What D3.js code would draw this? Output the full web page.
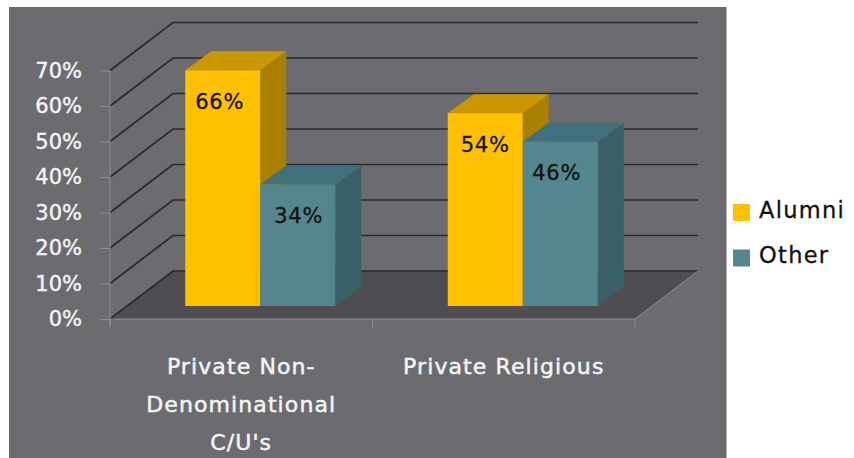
<!DOCTYPE html>
<html>
<head>
<meta charset="utf-8">
<script src="https://cdn.jsdelivr.net/npm/d3@7/dist/d3.min.js"></script>
<style>
html,body{margin:0;padding:0;background:#fff;}
text{font-family:"DejaVu Sans",sans-serif;}
</style>
</head>
<body>
<svg id="chart" width="854" height="458"></svg>
<script>
const categories = [["Private Non-","Denominational","C/U's"],["Private Religious"]];
const categoryKeys = ["nonDenominational","religious"];
const seriesNames = ["Alumni","Other"];
const alumniValues = [66,54];
const otherValues = [34,46];
const yTicks = [0,10,20,30,40,50,60,70];

const faces = {
  Alumni:{front:"#ffc000",top:"#c99800",side:"#aa8000"},
  Other:{front:"#53868f",top:"#40707b",side:"#3a5f66"}
};

const svg = d3.select("#chart");
const y = d3.scaleLinear().domain([0,70]).range([319,70.5]);
const x = d3.scaleBand().domain(categoryKeys).range([110,635]);
const xSeries = d3.scaleBand().domain(seriesNames).range([-75,75]);

// Oblique projection offsets: wall depth, and where the bars stand on the floor
const wall = {dx:63,dy:-48};
const barDepth = {dx:26,dy:-19};
const barStand = {dx:19,dy:-13};
const barGrowth = 1.006;
const poly = pts => pts.map(p=>p.join(",")).join(" ");

svg.append("rect").attr("x",9).attr("y",7).attr("width",717.5).attr("height",451).attr("fill","#6c6b70");

// Floor
const x0 = x.range()[0], x1 = x.range()[1], base = y(0);
svg.append("polygon")
  .attr("points",poly([[x0,base],[x0+wall.dx,base+wall.dy],[x1+wall.dx,base+wall.dy],[x1,base]]))
  .attr("fill","#4f4d52");

// Gridlines on the side and back walls
svg.append("g").selectAll("polyline").data(yTicks).join("polyline")
  .attr("points",d=>poly([[x0,y(d)],[x0+wall.dx,y(d)+wall.dy],[x1+wall.dx,y(d)+wall.dy]]))
  .attr("fill","none").attr("stroke","#2b2a2e").attr("stroke-width",1.7);

// Floor's outer edges
svg.append("path")
  .attr("d",`M${x0},${base}H${x1}L${x1+wall.dx},${base+wall.dy}`)
  .attr("fill","none").attr("stroke","#8d8c90").attr("stroke-width",1);

// Value axis
const yAxis = svg.append("g").attr("transform",`translate(${x0},0)`)
  .call(d3.axisLeft(y).tickValues(yTicks).tickSize(10).tickPadding(18).tickFormat(d=>d+"%"));
yAxis.selectAll("line,path").attr("stroke","#8d8c90");
yAxis.select("path").attr("d",`M0,${y(70)}V${base+8}`);
yAxis.selectAll("text").attr("fill","#f4f4f4").attr("stroke","#f4f4f4").attr("stroke-width",0.4)
  .attr("font-size",21).attr("font-family","DejaVu Sans").attr("text-anchor","end");

// Category ticks
svg.append("g").selectAll("line").data([x0,x0+x.step(),x1]).join("line")
  .attr("x1",d=>d).attr("x2",d=>d).attr("y1",base).attr("y2",base+8)
  .attr("stroke","#8d8c90");

// Category labels
const catLabels = svg.append("g").selectAll("text").data(categoryKeys).join("text")
  .attr("text-anchor","middle").attr("fill","#f4f4f4").attr("stroke","#f4f4f4").attr("stroke-width",0.5)
  .attr("font-size",22).attr("letter-spacing",1.1);
catLabels.each(function(k,i){
  d3.select(this).selectAll("tspan").data(categories[i]).join("tspan")
    .attr("x",x(k)+x.bandwidth()/2)
    .attr("y",(d,j)=>374+j*38)
    .text(d=>d);
});

// Bars, second series last so its top overlaps the neighbour's side
const labelShift = {nonDenominational:{Alumni:-3,Other:1},religious:{Alumni:0,Other:-3.5}};
const rows = categoryKeys.flatMap((k,i)=>[
  {key:k,series:"Alumni",value:alumniValues[i]},
  {key:k,series:"Other",value:otherValues[i]}
]);
const bars = svg.append("g").selectAll("g").data(rows).join("g");
const left = d=>x(d.key)+x.bandwidth()/2+barStand.dx+xSeries(d.series);
const right = d=>left(d)+xSeries.bandwidth();
const foot = base+barStand.dy;
const head = d=>foot-(y(0)-y(d.value))*barGrowth;
bars.append("polygon")
  .attr("points",d=>poly([[right(d),foot],[right(d)+barDepth.dx,foot+barDepth.dy],[right(d)+barDepth.dx,head(d)+barDepth.dy],[right(d),head(d)]]))
  .attr("fill",d=>faces[d.series].side);
bars.append("polygon")
  .attr("points",d=>poly([[left(d),head(d)],[left(d)+barDepth.dx,head(d)+barDepth.dy],[right(d)+barDepth.dx,head(d)+barDepth.dy],[right(d),head(d)]]))
  .attr("fill",d=>faces[d.series].top);
bars.append("rect")
  .attr("x",left).attr("y",head)
  .attr("width",xSeries.bandwidth()).attr("height",d=>foot-head(d))
  .attr("fill",d=>faces[d.series].front);
bars.append("text")
  .attr("x",d=>left(d)+xSeries.bandwidth()/2+labelShift[d.key][d.series])
  .attr("y",d=>head(d)+38.5)
  .attr("text-anchor","middle").attr("font-size",21).attr("letter-spacing",0.8)
  .attr("fill","#14120c").attr("stroke","#14120c").attr("stroke-width",0.3)
  .text(d=>d.value+"%");

// Legend
const legendY = d3.scalePoint().domain(seriesNames).range([212.5,258]);
const legend = svg.append("g").selectAll("g").data(seriesNames).join("g")
  .attr("transform",d=>`translate(733,${legendY(d)})`);
legend.append("rect").attr("x",0).attr("y",-8.5).attr("width",17).attr("height",17)
  .attr("fill",d=>faces[d].front);
legend.append("text").attr("x",26).attr("y",5).attr("font-size",22.5).attr("letter-spacing",1.3)
  .attr("fill","#111").attr("stroke","#111").attr("stroke-width",0.3).text(d=>d);
</script>
</body>
</html>
